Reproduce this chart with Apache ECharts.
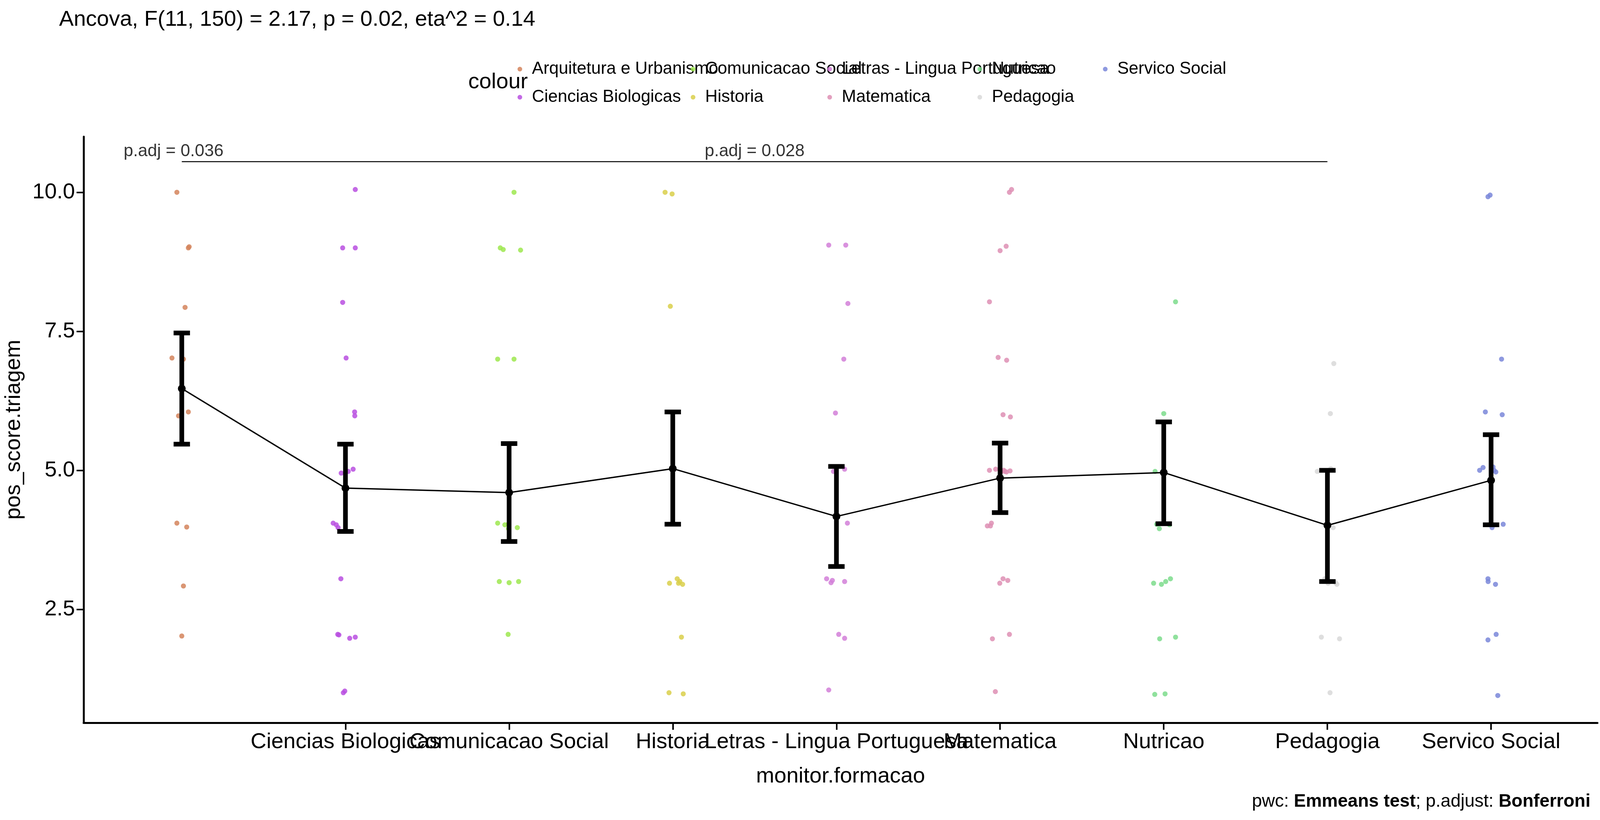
<!DOCTYPE html>
<html>
<head>
<meta charset="UTF-8">
<script src="https://cdn.jsdelivr.net/npm/echarts@6.0.0/dist/echarts.min.js"></script>
<style>
  html, body { margin: 0; padding: 0; background: #fff; overflow: hidden; }
  #chart { width: 100vw; height: 100vh; }
</style>
</head>
<body>
<div id="chart"></div>
<script>
// categories and colours
var categories = ['Arquitetura e Urbanismo', 'Ciencias Biologicas', 'Comunicacao Social', 'Historia',
  'Letras - Lingua Portuguesa', 'Matematica', 'Nutricao', 'Pedagogia', 'Servico Social'];
var colors = ['#d4845c', '#b84fe0', '#9de84f', '#d9cf4a', '#d27fd8', '#de8fb4', '#7ddc8c', '#d8d8d8', '#7a87d9'];

// jittered observations: [jitter offset, value]
var ptsArq = [[-0.03,10],[0.04,9],[0.045,9.02],[0.02,7.93],[-0.06,7.02],[0.01,7],[-0.02,5.98],[0.04,6.05],[-0.03,4.05],[0.03,3.98],[0.01,2.92],[0.0,2.02]];
var ptsCie = [[0.06,10.05],[-0.017,9],[0.06,9],[-0.017,8.02],[0.004,7.02],[0.056,6.05],[0.057,5.98],[-0.026,4.95],[0.017,4.98],[0.047,5.02],[-0.075,4.05],[-0.056,4.02],[-0.045,3.97],[-0.028,3.05],[-0.047,2.05],[-0.04,2.04],[0.026,1.98],[0.06,2.0],[-0.013,1.0],[-0.004,1.03]];
var ptsCom = [[0.03,10],[-0.054,9],[-0.036,8.97],[0.07,8.96],[-0.07,7],[0.03,7],[-0.07,4.05],[-0.026,4.02],[-0.006,4.03],[-0.004,3.95],[0.05,3.97],[-0.06,3],[0.0,2.98],[0.058,3.0],[-0.006,2.05]];
var ptsHis = [[-0.047,10],[-0.004,9.97],[-0.015,7.95],[-0.02,2.97],[0.027,3.05],[0.035,2.97],[0.043,3.0],[0.06,2.95],[0.053,2.0],[-0.023,1.0],[0.064,0.98]];
var ptsLet = [[-0.047,9.05],[0.057,9.05],[0.07,8.0],[0.045,7.0],[-0.006,6.03],[-0.018,4.98],[0.05,5.02],[0.067,4.05],[-0.06,3.05],[-0.033,2.98],[-0.025,3.02],[0.05,3.0],[0.014,2.05],[0.05,1.98],[-0.047,1.05]];
var ptsMat = [[0.057,10.0],[0.07,10.05],[0.0,8.95],[0.037,9.03],[-0.065,8.03],[-0.012,7.03],[0.04,6.98],[0.018,6.0],[0.063,5.96],[-0.065,5.0],[-0.027,5.02],[0.008,4.98],[0.022,5.0],[0.029,4.98],[0.039,4.97],[0.061,4.99],[-0.078,4.0],[-0.059,4.0],[-0.053,4.05],[-0.002,2.97],[0.018,3.05],[0.047,3.02],[-0.047,1.97],[0.057,2.05],[-0.029,1.02]];
var ptsNut = [[0.072,8.03],[0.0,6.02],[-0.053,4.98],[0.0,5.0],[-0.043,4.03],[0.035,4.02],[-0.027,3.95],[-0.062,2.97],[-0.014,2.95],[0.012,3.0],[0.041,3.05],[-0.025,1.97],[0.072,2.0],[-0.055,0.97],[0.008,0.98]];
var ptsPed = [[0.039,6.92],[0.018,6.02],[-0.062,4.98],[0.021,5.03],[0.035,3.97],[-0.016,3.05],[0.004,2.97],[0.05,2.98],[0.058,2.95],[-0.037,2.0],[0.074,1.97],[0.016,1.0]];
var ptsSer = [[-0.019,9.92],[-0.006,9.95],[0.064,7.0],[-0.035,6.05],[0.068,6.0],[-0.07,5.0],[-0.049,5.05],[0.012,5.06],[0.018,5.0],[0.029,4.97],[0.006,3.97],[0.074,4.03],[-0.019,3.05],[-0.018,3.0],[0.027,2.95],[-0.019,1.95],[0.031,2.05],[0.041,0.95]];
var points = [ptsArq, ptsCie, ptsCom, ptsHis, ptsLet, ptsMat, ptsNut, ptsPed, ptsSer];

// adjusted means and confidence limits
var means = [6.47, 4.68, 4.60, 5.03, 4.17, 4.86, 4.96, 4.01, 4.82];
var lower = [5.47, 3.90, 3.72, 4.03, 3.27, 4.24, 4.04, 3.00, 4.02];
var upper = [7.47, 5.47, 5.48, 6.05, 5.07, 5.49, 5.87, 5.00, 5.64];

var yTicks = [2.5, 5.0, 7.5, 10.0];
var bracketY = 10.55;

var FONT = 'Liberation Sans';
var el = document.getElementById('chart');
var chart = echarts.init(el);
// layout was measured on a 6300x2100 canvas; scale to the real viewport
var sx = el.clientWidth / 6300, sy = el.clientHeight / 2100;
function X(v) { return v * sx; }
function Y(v) { return v * sy; }
function F(v) { return v * sy; }

var series = [];
categories.forEach(function (name, i) {
  series.push({
    name: name, type: 'scatter', symbolSize: F(13),
    itemStyle: { color: colors[i], opacity: 0.85 },
    data: points[i].map(function (p) { return [i + p[0], p[1]]; }),
    z: 2
  });
});

series.push({
  type: 'custom', z: 4,
  data: means.map(function (m, i) { return [i, lower[i], upper[i]]; }),
  renderItem: function (params, api) {
    var lo = api.coord([api.value(0), api.value(1)]);
    var hi = api.coord([api.value(0), api.value(2)]);
    var hw = api.size([0.05, 0])[0];
    var st = { stroke: '#000', lineWidth: F(12) };
    return { type: 'group', children: [
      { type: 'line', shape: { x1: lo[0], y1: lo[1], x2: hi[0], y2: hi[1] }, style: st },
      { type: 'line', shape: { x1: lo[0] - hw, y1: lo[1], x2: lo[0] + hw, y2: lo[1] }, style: st },
      { type: 'line', shape: { x1: hi[0] - hw, y1: hi[1], x2: hi[0] + hw, y2: hi[1] }, style: st }
    ]};
  }
});

series.push({
  type: 'line', z: 5, symbol: 'circle', symbolSize: F(20),
  lineStyle: { color: '#000', width: F(3.5) }, itemStyle: { color: '#000' },
  data: means.map(function (m, i) { return [i, m]; })
});

// p.adj bracket
series.push({
  type: 'line', z: 3, symbol: 'none', silent: true,
  lineStyle: { color: '#000', width: F(2.5) },
  data: [[0, bracketY], [7, bracketY]]
});
series.push({
  type: 'scatter', symbolSize: 0, z: 6, silent: true,
  label: { show: true, position: 'top', distance: F(4), fontFamily: FONT, fontSize: F(44), color: '#000',
    formatter: function (p) { return p.data[2]; } },
  data: [[-0.05, bracketY, 'p.adj = 0.036'], [3.5, bracketY, 'p.adj = 0.028']]
});

function legendCol(left, names) {
  return {
    left: X(left), top: Y(150), orient: 'vertical', itemGap: F(28), icon: 'circle',
    itemWidth: F(12), itemHeight: F(12), data: names,
    textStyle: { fontFamily: FONT, fontSize: F(44), color: '#000', padding: [0, 0, 0, F(20)] }
  };
}

chart.setOption({
  backgroundColor: '#fff',
  animation: false,
  title: [
    { text: 'Ancova, F(11, 150) = 2.17, p = 0.02, eta^2 = 0.14', left: X(225), top: Y(18),
      textStyle: { fontFamily: FONT, fontSize: F(56), fontWeight: 'normal', color: '#000' } },
    { text: 'colour', left: X(1836), top: Y(178),
      textStyle: { fontFamily: FONT, fontSize: F(56), fontWeight: 'normal', color: '#000' } },
    { text: 'pwc: {b|Emmeans test}; p.adjust: {b|Bonferroni}', right: X(30), top: Y(2025),
      textStyle: { fontFamily: FONT, fontSize: F(46), fontWeight: 'normal', color: '#000',
        rich: { b: { fontFamily: FONT, fontSize: F(46), fontWeight: 'bold', color: '#000' } } } }
  ],
  legend: [
    legendCol(2030, [categories[0], categories[1]]),
    legendCol(2712, [categories[2], categories[3]]),
    legendCol(3250, [categories[4], categories[5]]),
    legendCol(3841, [categories[6], categories[7]]),
    legendCol(4335, [categories[8]])
  ],
  grid: { left: X(229), right: X(10), top: Y(350), bottom: Y(249) },
  xAxis: {
    type: 'value', min: -0.6, max: 8.65,
    name: 'monitor.formacao', nameLocation: 'middle', nameGap: F(110),
    nameTextStyle: { fontFamily: FONT, fontSize: F(56), color: '#000' },
    axisLine: { onZero: false, lineStyle: { color: '#000', width: F(5) } },
    axisTick: { show: true, customValues: [0,1,2,3,4,5,6,7,8], length: F(18), lineStyle: { color: '#000', width: F(4) } },
    axisLabel: { customValues: [0,1,2,3,4,5,6,7,8], fontFamily: FONT, fontSize: F(56), color: '#000', margin: F(22),
      formatter: function (v) { return categories[Math.round(v)] || ''; } },
    splitLine: { show: false }
  },
  yAxis: {
    type: 'value', min: 0.46, max: 11.0,
    name: 'pos_score.triagem', nameLocation: 'middle', nameGap: F(150), nameRotate: 90,
    nameTextStyle: { fontFamily: FONT, fontSize: F(56), color: '#000' },
    axisLine: { show: true, onZero: false, lineStyle: { color: '#000', width: F(5) } },
    axisTick: { show: true, customValues: yTicks, length: F(18), lineStyle: { color: '#000', width: F(4) } },
    axisLabel: { customValues: yTicks, fontFamily: FONT, fontSize: F(56), color: '#000', margin: F(22),
      formatter: function (v) { return v.toFixed(1); } },
    splitLine: { show: false }
  },
  series: series
});
</script>
</body>
</html>
